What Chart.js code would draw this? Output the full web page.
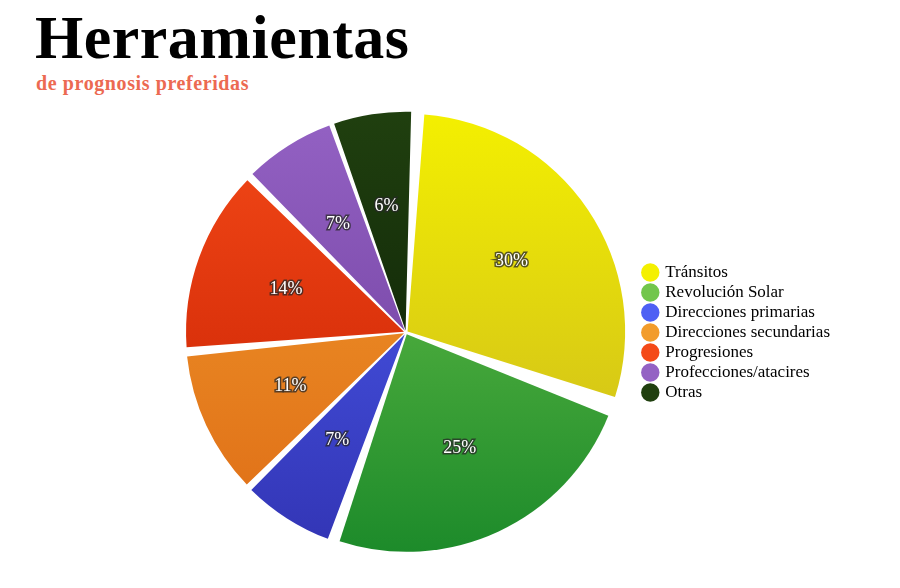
<!DOCTYPE html>
<html><head><meta charset="utf-8">
<script src="https://cdn.jsdelivr.net/npm/chart.js@4"></script>
<style>
body{margin:0;background:#fff;width:900px;height:588px;overflow:hidden;position:relative;font-family:"Liberation Serif",serif}
#t{position:absolute;left:35px;top:2px;font-size:62px;font-weight:bold;color:#000;margin:0;letter-spacing:0.5px}
#s{position:absolute;left:36px;top:72px;font-size:20px;font-weight:bold;color:#ec6a52;letter-spacing:0.6px}
#w{position:absolute;left:0;top:105px;width:900px;height:455px}
</style></head><body>
<div id="t">Herramientas</div>
<div id="s">de prognosis preferidas</div>
<div id="w"><canvas id="c"></canvas></div>
<script>
const categories=["Tránsitos","Revolución Solar","Direcciones primarias","Direcciones secundarias","Progresiones","Profecciones/atacires","Otras"];
const values=[30,25,7,11,14,7,6];
const colorsTop=["#f4f000","#72c64c","#4e60f4","#f29c2c","#f44a18","#9462c4","#20400f"];
const colorsBottom=["#c8b422","#1c8a2a","#3234b4","#de6c16","#c41c00","#683896","#081804"];
const grad=(ctx,i)=>{const c=ctx.chart,a=c.chartArea;if(!a)return colorsTop[i];
 const g=c.ctx.createLinearGradient(0,a.top,0,a.bottom);g.addColorStop(0,colorsTop[i]);g.addColorStop(1,colorsBottom[i]);return g;};
const labelsPlugin={id:'lbl',afterDatasetsDraw(ch){const x=ch.ctx;const meta=ch.getDatasetMeta(0);
 x.save();x.font='18px "Liberation Serif"';x.textAlign='center';x.textBaseline='middle';
 meta.data.forEach((el,i)=>{const p=el.getProps(['x','y','startAngle','endAngle','outerRadius']);
  const m=(p.startAngle+p.endAngle)/2,r=p.outerRadius*0.6;const tx=p.x+Math.cos(m)*r,ty=p.y+Math.sin(m)*r;
  const t=values[i]+'%';x.lineWidth=3;x.strokeStyle='rgba(40,40,40,0.75)';x.strokeText(t,tx,ty);x.fillStyle='#fff';x.fillText(t,tx,ty);});
 x.restore();}};
new Chart(document.getElementById('c'),{type:'pie',
 data:{labels:categories,datasets:[{data:values,backgroundColor:c=>grad(c,c.dataIndex),borderWidth:0,offset:8,spacing:10}]},
 options:{responsive:true,maintainAspectRatio:false,animation:false,rotation:2,
  layout:{padding:{left:171,right:60,top:6,bottom:6}},
  plugins:{tooltip:{enabled:false},
   legend:{position:'right',labels:{usePointStyle:true,pointStyle:'circle',boxWidth:13,boxHeight:13,padding:3,color:'#222',
    font:{family:'"Liberation Serif"',size:17},
    generateLabels:ch=>categories.map((l,i)=>({text:l,fillStyle:colorsTop[i],strokeStyle:colorsTop[i],lineWidth:0,pointStyle:'circle',index:i}))}}}},
 plugins:[labelsPlugin]});
</script></body></html>
